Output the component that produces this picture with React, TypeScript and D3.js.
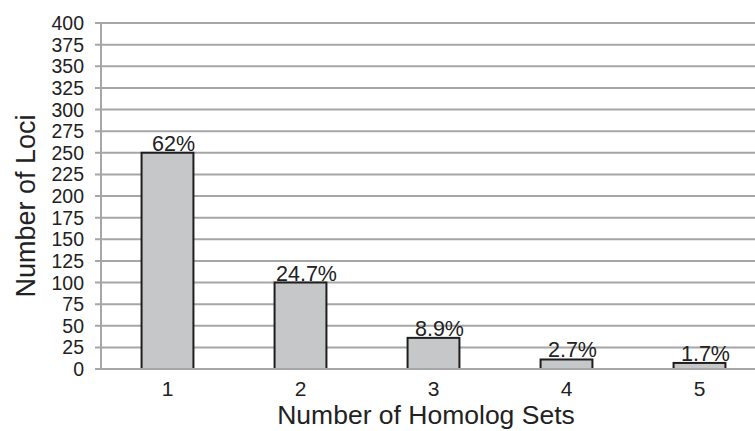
import * as d3 from 'd3'

const W = 755
const H = 431

const categories = ['1', '2', '3', '4', '5']
const loci = [250, 100, 36, 11, 7]
const pctLabels = ['62%', '24.7%', '8.9%', '2.7%', '1.7%']
const yTicks = [0, 25, 50, 75, 100, 125, 150, 175, 200, 225, 250, 275, 300, 325, 350, 375, 400]

const PLOT = { left: 101, top: 23, bottom: 369, right: 766 }
const GRID = '#a6a6a8'
const FONT = 'Liberation Sans, Arial, sans-serif'

export default function App() {
  const x = d3
    .scaleBand()
    .domain(categories)
    .range([PLOT.left, PLOT.right])
    .paddingInner(0.61)
    .paddingOuter(0.305)

  const y = d3.scaleLinear().domain([0, 400]).range([PLOT.bottom, PLOT.top])

  return (
    <svg
      width={W}
      height={H}
      style={{ position: 'absolute', left: 0, top: 0, background: '#fff' }}
      fontFamily={FONT}
    >
      {/* gridlines + ticks */}
      {yTicks.map((t) => (
        <g key={t}>
          <line x1={95} x2={W} y1={y(t)} y2={y(t)} stroke={GRID} strokeWidth={2} />
          <text
            x={84}
            y={y(t) + 7}
            textAnchor="end"
            fontSize={19.5}
            fill="#222"
          >
            {t}
          </text>
        </g>
      ))}
      <line x1={PLOT.left} x2={PLOT.left} y1={PLOT.top} y2={PLOT.bottom} stroke={GRID} strokeWidth={2} />

      {/* bars */}
      {categories.map((c, i) => {
        const bx = x(c) ?? 0
        const by = y(loci[i])
        return (
          <g key={c}>
            <rect
              x={bx}
              y={by}
              width={x.bandwidth()}
              height={PLOT.bottom - by}
              fill="#c6c7c9"
              stroke="#1e1e1e"
              strokeWidth={2}
            />
            <text
              x={bx + x.bandwidth() / 2 + 6}
              y={by - 2}
              textAnchor="middle"
              fontSize={21.5}
              fill="#222"
            >
              {pctLabels[i]}
            </text>
            <text
              x={bx + x.bandwidth() / 2}
              y={396}
              textAnchor="middle"
              fontSize={21}
              fill="#222"
            >
              {c}
            </text>
          </g>
        )
      })}
      <line x1={95} x2={W} y1={PLOT.bottom} y2={PLOT.bottom} stroke={GRID} strokeWidth={2} />

      {/* axis titles */}
      <text x={426} y={424} textAnchor="middle" fontSize={26.5} fill="#222">
        Number of Homolog Sets
      </text>
      <text
        transform="translate(35,206) rotate(-90)"
        textAnchor="middle"
        fontSize={27}
        fill="#222"
      >
        Number of Loci
      </text>
    </svg>
  )
}
